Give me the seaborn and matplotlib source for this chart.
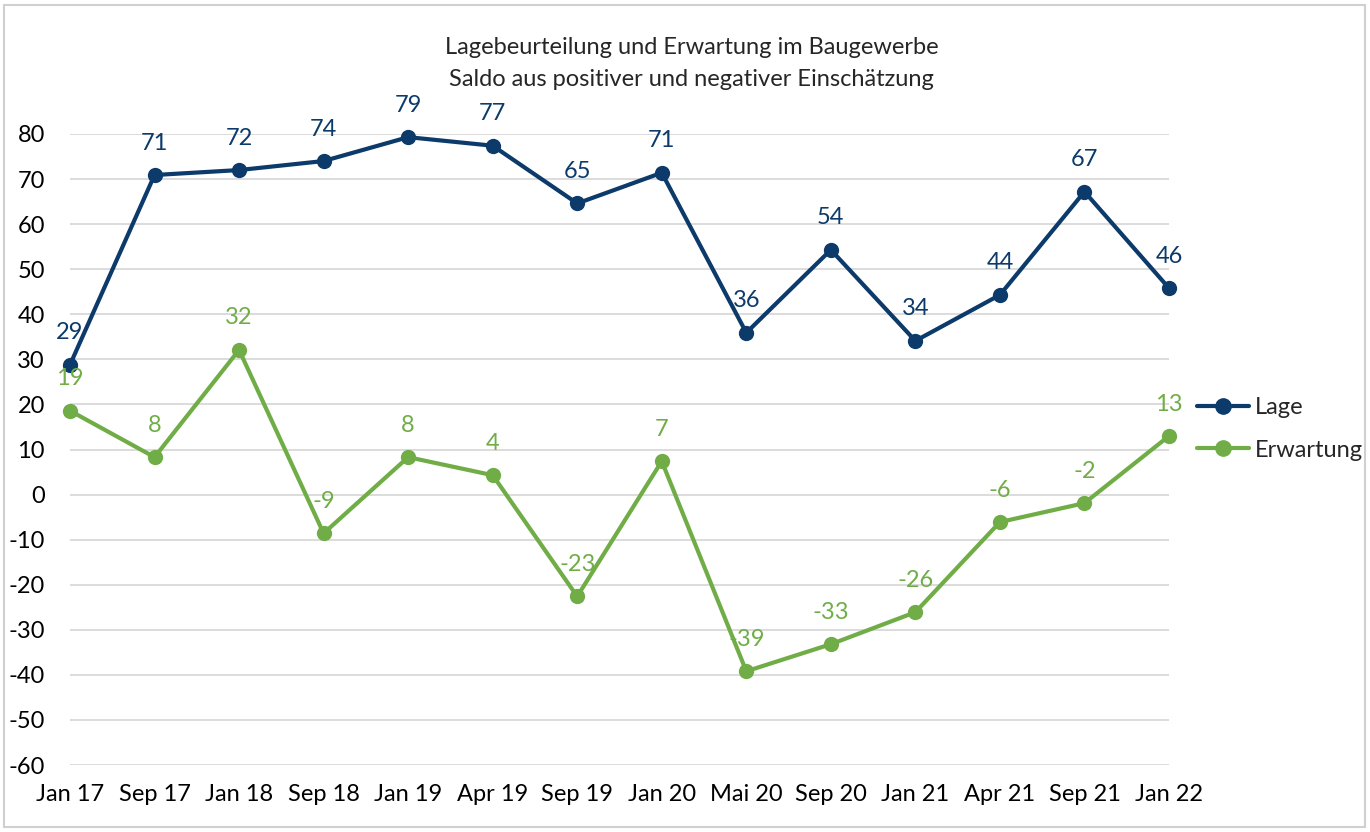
import pandas as pd
import seaborn as sns
import matplotlib.pyplot as plt
from matplotlib.lines import Line2D
from matplotlib.patches import Rectangle

# data
periods = ['Jan 17', 'Sep 17', 'Jan 18', 'Sep 18', 'Jan 19', 'Apr 19', 'Sep 19',
           'Jan 20', 'Mai 20', 'Sep 20', 'Jan 21', 'Apr 21', 'Sep 21', 'Jan 22']
lage = [28.8, 70.9, 72.0, 74.0, 79.3, 77.4, 64.6, 71.4, 35.9, 54.3, 34.1, 44.3, 67.2, 45.8]
erwartung = [18.6, 8.3, 32.1, -8.6, 8.3, 4.3, -22.6, 7.4, -39.2, -33.2, -26.1, -6.1, -1.9, 13.0]
y_ticks = list(range(-60, 81, 10))

navy = '#0B3A6B'
green = '#70AD47'

sns.set_style('white')
plt.rcParams['font.family'] = ['Lato', 'DejaVu Sans']
plt.rcParams['axes.unicode_minus'] = False

df = pd.DataFrame({
    'Zeit': periods * 2,
    'Saldo': lage + erwartung,
    'Reihe': ['Lage'] * len(periods) + ['Erwartung'] * len(periods),
})

fig = plt.figure(figsize=(13.7, 8.32), dpi=100)
ax = fig.add_axes([70 / 1370, 67 / 832, 1099 / 1370, 631 / 832])

sns.lineplot(data=df, x='Zeit', y='Saldo', hue='Reihe', sort=False,
             palette={'Lage': navy, 'Erwartung': green},
             marker='o', markersize=11, markeredgewidth=0, linewidth=3,
             legend=False, ax=ax)
for line in ax.lines:
    line.set_clip_on(False)

# data labels
for vals, col in [(lage, navy), (erwartung, green)]:
    for i, v in enumerate(vals):
        ax.annotate(f'{round(v):d}', (i, v), xytext=(0, 23), textcoords='offset points',
                    ha='center', va='center', fontsize=17, color=col)

ax.set_xlim(0, len(periods) - 1)
ax.set_ylim(-60, 80)
ax.set_yticks(y_ticks)
ax.set_xlabel('')
ax.set_ylabel('')
ax.grid(axis='y', color='#D9D9D9', linewidth=1.3)
ax.set_axisbelow(True)
for s in ax.spines.values():
    s.set_visible(False)
ax.tick_params(axis='y', length=0, pad=18, labelsize=17, colors='black')
ax.tick_params(axis='x', length=0, pad=14, labelsize=17, colors='black')

fig.text(0.505, 1 - 47 / 832, 'Lagebeurteilung und Erwartung im Baugewerbe',
         ha='center', va='center', fontsize=17)
fig.text(0.505, 1 - 79 / 832, 'Saldo aus positiver und negativer Einschätzung',
         ha='center', va='center', fontsize=17)

handles = [Line2D([], [], color=navy, marker='o', markersize=11, linewidth=3),
           Line2D([], [], color=green, marker='o', markersize=11, linewidth=3)]
fig.legend(handles, ['Lage', 'Erwartung'], loc='center left',
           bbox_to_anchor=(1176 / 1370, 1 - 429 / 832), frameon=False,
           fontsize=17, handlelength=2.2, handletextpad=0.25, labelspacing=0.9)

fig.patches.append(Rectangle((4 / 1370, 5 / 832), 1361 / 1370, 822 / 832,
                             transform=fig.transFigure, fill=False,
                             edgecolor='#D0D0D0', linewidth=1.5))

fig.savefig('out.png', dpi=100)
